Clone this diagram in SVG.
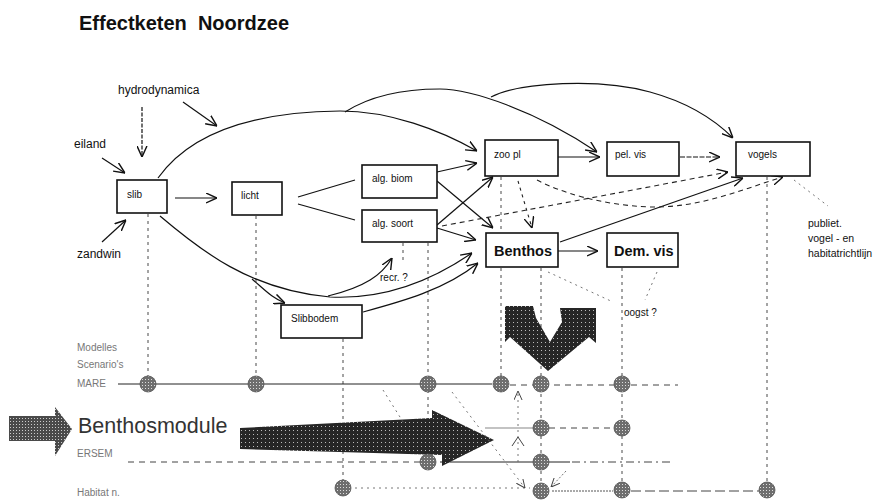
<svg xmlns="http://www.w3.org/2000/svg" width="885" height="503" viewBox="0 0 885 503">
<defs>
<style>
.bx{fill:#fff;stroke:#111;stroke-width:1.6}
.t{font-family:"Liberation Sans",Arial,sans-serif;fill:#111}
.s{font-size:10px}
.m{font-size:12px}
.b{font-size:14.5px;font-weight:bold}
.g{font-family:"Liberation Sans",Arial,sans-serif;font-size:10px;fill:#777}
.ln{fill:none;stroke:#111;stroke-width:1.2}
.da{fill:none;stroke:#222;stroke-width:1.1;stroke-dasharray:5 4}
.col{fill:none;stroke:#333;stroke-width:0.9;stroke-dasharray:3 4}
.row{fill:none;stroke:#222;stroke-width:1}
.rd{fill:none;stroke:#444;stroke-width:1;stroke-dasharray:6 5}
.dot{fill:none;stroke:#666;stroke-width:0.9;stroke-dasharray:2 4}
.c{fill:url(#sp);stroke:#555;stroke-width:0.8}
</style>
<pattern id="sp" width="3" height="3" patternUnits="userSpaceOnUse"><rect width="3" height="3" fill="#6e6e6e"/><rect x="1" y="1" width="1" height="1" fill="#ddd"/></pattern>
<pattern id="dk" width="4" height="4" patternUnits="userSpaceOnUse"><rect width="4" height="4" fill="#262626"/><rect x="1" y="2" width="1" height="1" fill="#bbb"/></pattern>
<pattern id="md" width="3" height="3" patternUnits="userSpaceOnUse"><rect width="3" height="3" fill="#4a4a4a"/><rect x="1" y="1" width="1" height="1" fill="#ccc"/></pattern>
<marker id="ah" viewBox="0 0 10 10" refX="10" refY="5" markerWidth="11" markerHeight="11" markerUnits="userSpaceOnUse" orient="auto"><path d="M0,0.5 L10,5 L0,9.5" fill="none" stroke="#111" stroke-width="1.3"/></marker>
<marker id="ahg" viewBox="0 0 10 10" refX="10" refY="5" markerWidth="9" markerHeight="9" markerUnits="userSpaceOnUse" orient="auto"><path d="M0,0.5 L10,5 L0,9.5" fill="none" stroke="#444" stroke-width="1.1"/></marker>
</defs>
<rect width="885" height="503" fill="#fff"/>

<text class="t" x="79" y="30" style="font-size:20px;font-weight:bold">Effectketen&#160; Noordzee</text>

<g id="labels">
<text class="t m" x="118" y="94">hydrodynamica</text>
<text class="t m" x="74" y="148">eiland</text>
<text class="t m" x="77" y="258">zandwin</text>
<text class="t s" x="380" y="281">recr. ?</text>
<text class="t s" x="624" y="316">oogst ?</text>
<text class="t" x="808" y="227" style="font-size:10.5px">publiet.</text>
<text class="t" x="808" y="242" style="font-size:10.5px">vogel - en</text>
<text class="t" x="808" y="257" style="font-size:10.5px">habitatrichtlijn</text>
<text class="g" x="77" y="351">Modelles</text>
<text class="g" x="77" y="368">Scenario's</text>
<text class="g" x="77" y="387">MARE</text>
<text class="g" x="77" y="457">ERSEM</text>
<text class="g" x="77" y="496">Habitat n.</text>
<text x="78" y="433" style="font-family:'Liberation Sans',Arial,sans-serif;font-size:21.5px;fill:#333">Benthosmodule</text>
</g>

<g id="columns">
<path class="col" d="M148,214V384M256,216V384M343,339V489M403,243V262M428,243V462M501,177V384M541,268V491M622,268V491M767,177V491"/>
</g>

<g id="rows">
<path class="row" d="M118,384H492"/>
<path class="rd" d="M510,385H678"/>
<path d="M485,428H541" fill="none" stroke="#888" stroke-width="1.2"/>
<path class="rd" d="M549,428H614"/>
<path class="rd" d="M128,462H425"/>
<path class="row" d="M440,462H570"/>
<path fill="none" stroke="#444" stroke-width="1" stroke-dasharray="8 4 2 4" d="M572,462H673"/>
<path class="dot" d="M355,488H530"/>
<path fill="none" stroke="#555" stroke-width="1" stroke-dasharray="2 1" d="M552,491H613"/>
<path class="rd" d="M631,491H759" style="stroke-dasharray:10 4"/>
</g>

<g id="big-arrows">
<polygon points="9,416 55,416 55,407 72,429 55,456 55,441 9,441" fill="url(#md)"/>
<polygon points="240,428 432,418 432,410 494,440 442,466 442,455 240,449" fill="url(#dk)"/>
<polygon points="505,306 533,306 536,318 550,342 562,322 560,308 596,308 596,343 589,337 548,371 510,337 505,342" fill="url(#dk)"/>
</g>

<g id="connectors">
<path class="ln" d="M142,107V157" style="stroke-dasharray:4 1.5" marker-end="url(#ah)"/>
<path class="ln" d="M183,102L217,126" marker-end="url(#ah)"/>
<path class="ln" d="M102,158L125,173" marker-end="url(#ah)"/>
<path class="ln" d="M102,242L126,220" marker-end="url(#ah)"/>
<path class="ln" d="M158,178C185,140 240,112 340,111C390,111 440,130 477,151" marker-end="url(#ah)"/>
<path class="ln" d="M345,112C370,96 405,89 440,89C470,89 535,110 597,152" marker-end="url(#ah)"/>
<path class="ln" d="M491,97C520,82 600,78 650,92C690,103 715,120 733,138" marker-end="url(#ah)"/>
<path class="ln" d="M175,198H217" marker-end="url(#ah)"/>
<path class="ln" d="M298,197L355,180M298,204L355,220"/>
<path class="ln" d="M437,172L477,163" marker-end="url(#ah)"/>
<path class="ln" d="M437,181L493,228" marker-end="url(#ah)"/>
<path class="ln" d="M437,225L493,177" marker-end="url(#ah)"/>
<path class="ln" d="M437,228L476,240" marker-end="url(#ah)"/>
<path class="ln" d="M558,157H600" marker-end="url(#ah)"/>
<path class="ln" d="M680,157H720" style="stroke-dasharray:5 1.5" marker-end="url(#ah)"/>
<path class="ln" d="M560,242L743,178" marker-end="url(#ah)"/>
<path class="ln" d="M558,251H598" marker-end="url(#ah)"/>
<path class="ln" d="M160,216C200,250 250,290 330,297C390,300 440,275 472,253" marker-end="url(#ah)"/>
<path class="ln" d="M252,279C265,290 272,298 285,303" marker-end="url(#ah)"/>
<path class="ln" d="M328,296C365,287 382,275 392,258" marker-end="url(#ah)"/>
<path class="ln" d="M363,312C400,302 445,290 478,263" marker-end="url(#ah)"/>
<path class="da" d="M442,226L728,172" marker-end="url(#ah)"/>
<path class="da" d="M537,180C560,192 600,205 650,207C700,208 740,190 783,177" marker-end="url(#ah)"/>
<path class="da" d="M518,181L532,228" style="stroke-dasharray:3 4" marker-end="url(#ah)"/>
<path class="dot" d="M794,180L828,206"/>
<path class="dot" d="M548,272L613,302"/>
<path class="dot" d="M657,272L645,300"/>
<path class="dot" d="M518,462V391" marker-end="url(#ahg)"/>
<path fill="none" stroke="#444" stroke-width="1" d="M512,446L518,437L524,446"/>
<path class="dot" d="M452,392L525,488" marker-end="url(#ahg)"/>
<path class="dot" d="M383,390L405,425"/>
<path fill="none" stroke="#666" stroke-width="0.9" stroke-dasharray="2 2" d="M566,471L551,487" marker-end="url(#ahg)"/>
</g>

<g id="markers">
<circle class="c" cx="148" cy="384" r="8"/>
<circle class="c" cx="256" cy="384" r="8"/>
<circle class="c" cx="428" cy="384" r="8"/>
<circle class="c" cx="501" cy="384" r="8"/>
<circle class="c" cx="541" cy="384" r="8"/>
<circle class="c" cx="622" cy="384" r="8"/>
<circle class="c" cx="541" cy="428" r="8"/>
<circle class="c" cx="622" cy="428" r="8"/>
<circle class="c" cx="428" cy="462" r="8"/>
<circle class="c" cx="541" cy="462" r="8"/>
<circle class="c" cx="343" cy="488" r="8"/>
<circle class="c" cx="541" cy="491" r="8"/>
<circle class="c" cx="622" cy="490" r="8"/>
<circle class="c" cx="767" cy="490" r="8"/>
</g>

<g id="slib"><rect class="bx" x="117" y="180" width="50" height="33"/><text class="t s" x="127" y="198">slib</text></g>
<g id="licht"><rect class="bx" x="232" y="182" width="50" height="33"/><text class="t s" x="241" y="199">licht</text></g>
<g id="alg-biom"><rect class="bx" x="362" y="165" width="75" height="33"/><text class="t s" x="372" y="182">alg. biom</text></g>
<g id="alg-soort"><rect class="bx" x="362" y="210" width="75" height="32"/><text class="t s" x="372" y="227">alg. soort</text></g>
<g id="slibbodem"><rect class="bx" x="281" y="305" width="81" height="33"/><text class="t s" x="291" y="322">Slibbodem</text></g>
<g id="zoopl"><rect class="bx" x="485" y="140" width="73" height="36"/><text class="t s" x="494" y="158">zoo pl</text></g>
<g id="pelvis"><rect class="bx" x="607" y="142" width="72" height="34"/><text class="t s" x="615" y="158">pel. vis</text></g>
<g id="vogels"><rect class="bx" x="736" y="142" width="74" height="34"/><text class="t s" x="748" y="158">vogels</text></g>
<g id="benthos"><rect class="bx" x="486" y="233" width="72" height="34"/><text class="t b" x="494" y="256">Benthos</text></g>
<g id="demvis"><rect class="bx" x="607" y="233" width="71" height="34"/><text class="t b" x="614" y="256">Dem. vis</text></g>
</svg>
